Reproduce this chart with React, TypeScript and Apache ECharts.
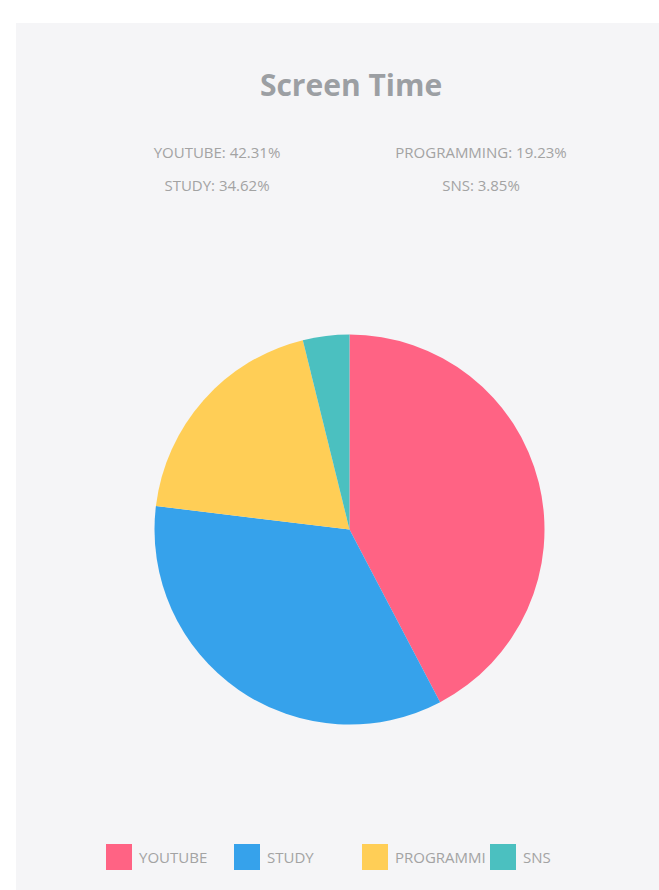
import React, { useEffect, useRef } from "react";
import * as echarts from "echarts";

const categories = ["YOUTUBE", "STUDY", "PROGRAMMING", "SNS"];
const values = [11, 9, 5, 1];
const colors = ["#FF6384", "#36A2EB", "#FFCE56", "#4BC0C0"];
const titleText = "Screen Time";

export default function App() {
  const ref = useRef<HTMLDivElement>(null);
  useEffect(() => {
    if (!ref.current) return;
    const chart = echarts.init(ref.current, null, { renderer: "svg" });
    const total = values.reduce((a, b) => a + b, 0);
    const pct = values.map((v) => ((v / total) * 100).toFixed(2));
    const statCols = [217, 481];
    const statRows = [152, 185];
    const statTexts = categories.map((c, i) => ({
      type: "text",
      x: statCols[Math.floor(i / 2)],
      y: statRows[i % 2],
      style: {
        text: `${c}: ${pct[i]}%`,
        fill: "#a3a3a3",
        font: '15px "Open Sans"',
        textAlign: "center",
        textVerticalAlign: "middle",
      },
      z: 10,
    }));
    const legends = categories.map((c, i) => ({
      left: 101 + 128 * i,
      top: 839,
      orient: "horizontal",
      icon: "rect",
      itemWidth: 26,
      itemHeight: 26,
      itemGap: 0,
      selectedMode: false,
      textStyle: {
        color: "#a3a3a3",
        fontSize: 15,
        fontFamily: "Open Sans",
        padding: [0, 0, 0, 2],
        width: 93,
        overflow: "truncate",
        ellipsis: "",
      },
      data: [c],
    }));
    chart.setOption({
      animation: false,
      backgroundColor: "#ffffff",
      graphic: [
        {
          type: "rect",
          shape: { x: 16, y: 23, width: 700, height: 900 },
          style: { fill: "#f5f5f7" },
          z: -10,
        },
        {
          type: "text",
          x: 351,
          y: 84,
          style: {
            text: titleText,
            fill: "#9c9fa3",
            font: 'bold 30px "Open Sans"',
            textAlign: "center",
            textVerticalAlign: "middle",
          },
          z: 10,
        },
        ...statTexts,
      ],
      color: colors,
      legend: legends,
      series: [
        {
          type: "pie",
          center: [349.5, 529.5],
          radius: 195,
          startAngle: 90,
          clockwise: true,
          label: { show: false },
          labelLine: { show: false },
          emphasis: { disabled: true },
          data: categories.map((c, i) => ({ name: c, value: values[i] })),
        },
      ],
    });
    return () => chart.dispose();
  }, []);
  return (
    <div
      ref={ref}
      style={{ position: "fixed", left: 0, top: 0, width: 659, height: 890 }}
    />
  );
}
